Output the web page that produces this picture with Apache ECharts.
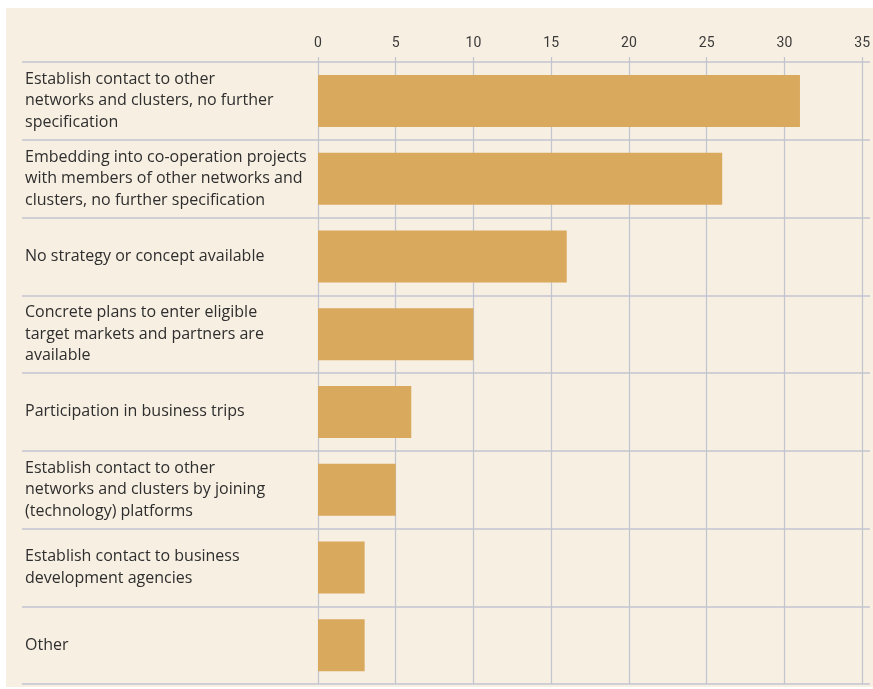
<!DOCTYPE html>
<html><head><meta charset="utf-8">
<script src="https://cdn.jsdelivr.net/npm/echarts@6/dist/echarts.min.js"></script>
<style>html,body{margin:0;padding:0;background:#fff}#c{width:873px;height:689px}</style>
</head><body><div id="c"></div>
<script>
const categories = [
  "Establish contact to other\nnetworks and clusters, no further\nspecification",
  "Embedding into co-operation projects\nwith members of other networks and\nclusters, no further specification",
  "No strategy or concept available",
  "Concrete plans to enter eligible\ntarget markets and partners are\navailable",
  "Participation in business trips",
  "Establish contact to other\nnetworks and clusters by joining\n(technology) platforms",
  "Establish contact to business\ndevelopment agencies",
  "Other"
];
const values = [31, 26, 16, 10, 6, 5, 3, 3];
const tickMin = 0, tickMax = 35, tickStep = 5;

const chart = echarts.init(document.getElementById('c'));
const lineColor = '#c2c4d0';
chart.setOption({
  backgroundColor: '#ffffff',
  graphic: [{type:'rect', left: 6, top: 8, shape:{width: 873, height: 679}, style:{fill:'#f7efe2'}, z:-10}],
  grid: [
    {left: 22, right: 3, top: 62, bottom: 5},
    {left: 318, right: 3, top: 62, bottom: 5}
  ],
  xAxis: [
    {gridIndex: 0, type: 'value', show: false, min: 0, max: 1},
    {gridIndex: 1, type: 'value', position: 'top', min: tickMin, max: tickMax, interval: tickStep,
     axisLine: {show: false},
     axisTick: {show: true, length: 5, lineStyle: {color: lineColor, width: 1.2}},
     axisLabel: {margin: 12, color: '#3a3a3a', fontSize: 14, fontFamily: 'Roboto'},
     splitLine: {show: true, lineStyle: {color: lineColor, width: 1.2}}}
  ],
  yAxis: [
    {gridIndex: 0, type: 'category', inverse: true, data: categories,
     axisLine: {show: false}, axisTick: {show: false}, axisLabel: {show: false},
     splitLine: {show: true, interval: 0, lineStyle: {color: lineColor, width: 1.5}}},
    {gridIndex: 1, type: 'category', inverse: true, data: categories,
     axisLine: {show: false}, axisTick: {show: false},
     axisLabel: {align: 'left', margin: 293, color: '#2e2e2e', fontSize: 16, lineHeight: 21.5, fontFamily: 'Open Sans'},
     splitLine: {show: false}}
  ],
  series: [
    {type: 'bar', xAxisIndex: 0, yAxisIndex: 0, data: [], silent: true},
    {type: 'bar', xAxisIndex: 1, yAxisIndex: 1, data: values, barWidth: 52,
     itemStyle: {color: '#d9a95d'}, silent: true}
  ],
  animation: false
});
</script></body></html>
